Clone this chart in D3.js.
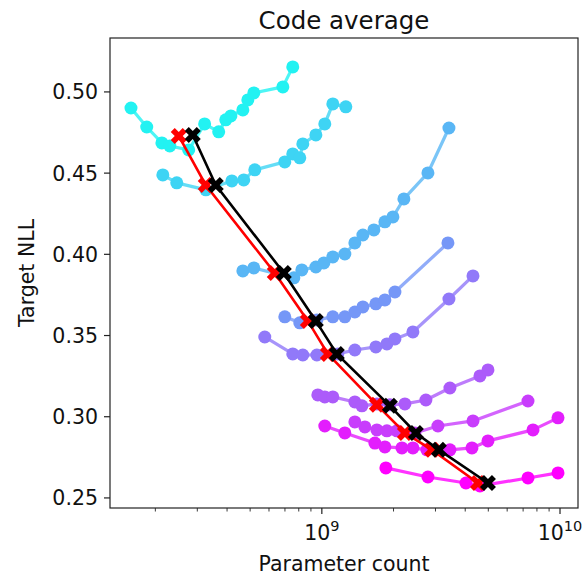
<!DOCTYPE html>
<html><head><meta charset="utf-8">
<script src="https://cdn.jsdelivr.net/npm/d3@7"></script>
<style>body{margin:0;background:#fff}svg{display:block;font-family:"DejaVu Sans",sans-serif}</style>
</head><body><svg id="c" width="586" height="576"></svg>
<script>
const title = "Code average";
const xLabel = "Parameter count";
const yLabel = "Target NLL";
const yTicks = [0.25, 0.30, 0.35, 0.40, 0.45, 0.50];
const xTicks = [1e9, 1e10];

const s1x = [1.58e8,1.84e8,2.13e8,2.30e8,2.76e8,3.22e8,3.69e8,3.95e8,4.15e8,4.66e8,4.89e8,5.18e8,6.86e8,7.55e8];
const s1y = [0.4901,0.4784,0.4686,0.4667,0.4643,0.4803,0.4754,0.4828,0.4852,0.4889,0.4951,0.4994,0.5031,0.5154];
const s2x = [2.15e8,2.46e8,3.26e8,4.19e8,4.70e8,5.23e8,6.99e8,7.55e8,8.08e8,8.32e8,9.44e8,1.029e9,1.112e9,1.261e9];
const s2y = [0.4489,0.4440,0.4397,0.4452,0.4458,0.4520,0.4569,0.4618,0.4594,0.4680,0.4735,0.4803,0.4926,0.4908];
const s3x = [4.66e8,5.18e8,7.63e8,8.24e8,9.44e8,1.020e9,1.112e9,1.249e9,1.376e9,1.487e9,1.654e9,1.840e9,1.988e9,2.211e9,2.789e9,3.417e9];
const s3y = [0.3898,0.3916,0.3855,0.3904,0.3922,0.3947,0.3984,0.4002,0.4070,0.4119,0.4150,0.4200,0.4230,0.4341,0.4501,0.4778];
const s4x = [6.99e8,8.08e8,9.53e8,1.112e9,1.249e9,1.376e9,1.487e9,1.686e9,1.840e9,2.027e9,3.384e9];
const s4y = [0.3615,0.3578,0.3596,0.3615,0.3615,0.3645,0.3676,0.3695,0.3719,0.3768,0.4070];
const s5x = [5.76e8,7.55e8,8.32e8,9.53e8,1.167e9,1.376e9,1.686e9,1.876e9,2.027e9,2.412e9,3.417e9,4.311e9];
const s5y = [0.3491,0.3387,0.3380,0.3380,0.3387,0.3411,0.3430,0.3448,0.3479,0.3522,0.3725,0.3867];
const s6x = [9.62e8,1.029e9,1.112e9,1.376e9,1.473e9,1.703e9,1.931e9,2.232e9,2.735e9,3.450e9,4.612e9,4.983e9];
const s6y = [0.3134,0.3122,0.3122,0.3091,0.3067,0.3079,0.3073,0.3079,0.3103,0.3177,0.3251,0.3288];
const s7x = [1.376e9,1.516e9,1.703e9,1.876e9,2.066e9,2.459e9,3.072e9,4.311e9,7.337e9];
const s7y = [0.2968,0.2937,0.2919,0.2913,0.2913,0.2900,0.2943,0.2974,0.3097];
const s8x = [1.029e9,1.249e9,1.670e9,1.840e9,2.169e9,2.412e9,2.762e9,3.450e9,4.269e9,4.983e9,7.701e9,9.809e9];
const s8y = [0.2943,0.2900,0.2838,0.2814,0.2808,0.2808,0.2796,0.2796,0.2808,0.2851,0.2919,0.2993];
const s9x = [1.857e9,2.789e9,4.027e9,4.612e9,7.337e9,9.809e9];
const s9y = [0.2685,0.2629,0.2592,0.2574,0.2623,0.2654];

const redX = [2.507e8,3.255e8,6.345e8,8.735e8,1.060e9,1.703e9,2.232e9,2.899e9,4.524e9];
const redY = [0.4729,0.4427,0.3885,0.3590,0.3387,0.3073,0.2900,0.2796,0.2592];
const blackX = [2.871e8,3.586e8,6.925e8,9.437e8,1.156e9,1.931e9,2.483e9,3.102e9,4.983e9];
const blackY = [0.4735,0.4427,0.3885,0.3590,0.3387,0.3067,0.2900,0.2796,0.2592];

const seriesX = [s1x,s2x,s3x,s4x,s5x,s6x,s7x,s8x,s9x];
const seriesY = [s1y,s2y,s3y,s4y,s5y,s6y,s7y,s8y,s9y];

const L = 110, R = 578, T = 38, B = 508;
const svg = d3.select("#c");
const x = d3.scaleLog().domain([1.29e8, 1.19e10]).range([L, R]);
const y = d3.scaleLinear().domain([0.2438, 0.5332]).range([B, T]);
const cmap = d3.interpolateRgb("#22f2f2", "#ff00ff");

const plot = svg.append("g");
const line = d3.line().x(d => x(d[0])).y(d => y(d[1]));

seriesX.forEach((xs, i) => {
  const col = cmap(i / (seriesX.length - 1));
  const pts = xs.map((v, j) => [v, seriesY[i][j]]);
  plot.append("path").datum(pts).attr("d", line).attr("fill", "none")
    .attr("stroke", col).attr("stroke-width", 3.2).attr("stroke-opacity", 0.8).attr("stroke-linejoin", "round");
  plot.selectAll(null).data(pts).enter().append("circle")
    .attr("cx", d => x(d[0])).attr("cy", d => y(d[1])).attr("r", 6.5)
    .attr("fill", col);
});

function optLine(xs, ys, col) {
  const pts = xs.map((v, j) => [v, ys[j]]);
  plot.append("path").datum(pts).attr("d", line).attr("fill", "none")
    .attr("stroke", col).attr("stroke-width", 2.6);
  const sym = d3.symbol().type(d3.symbolCross).size(160);
  plot.selectAll(null).data(pts).enter().append("path")
    .attr("d", sym).attr("fill", col)
    .attr("transform", d => `translate(${x(d[0])},${y(d[1])}) rotate(45)`);
}
optLine(redX, redY, "#ff0000");
optLine(blackX, blackY, "#000000");

// axes frame
svg.append("rect").attr("x", L).attr("y", T).attr("width", R - L).attr("height", B - T)
  .attr("fill", "none").attr("stroke", "#222").attr("stroke-width", 1.2);

// y axis
const ya = svg.append("g");
yTicks.forEach(t => {
  const py = y(t);
  ya.append("line").attr("x1", L - 6).attr("x2", L).attr("y1", py).attr("y2", py).attr("stroke", "#222").attr("stroke-width", 1.2);
  ya.append("text").attr("x", L - 12).attr("y", py).attr("dy", "0.36em").attr("text-anchor", "end")
    .attr("font-size", 20.5).attr("fill", "#111").text(t.toFixed(2));
});
// x axis
const xa = svg.append("g");
const minor = [];
for (let e = 8; e <= 10; e++) for (let k = 2; k <= 9; k++) {
  const v = k * Math.pow(10, e);
  if (v >= x.domain()[0] && v <= x.domain()[1]) minor.push(v);
}
minor.forEach(v => {
  xa.append("line").attr("x1", x(v)).attr("x2", x(v)).attr("y1", B).attr("y2", B + 3.5).attr("stroke", "#222").attr("stroke-width", 0.9);
});
xTicks.forEach(v => {
  const px = x(v);
  xa.append("line").attr("x1", px).attr("x2", px).attr("y1", B).attr("y2", B + 6).attr("stroke", "#222").attr("stroke-width", 1.2);
  const t = xa.append("text").attr("x", px).attr("y", B + 32).attr("text-anchor", "middle")
    .attr("font-size", 20.5).attr("fill", "#111");
  t.append("tspan").text("10");
  t.append("tspan").attr("dy", -9).attr("font-size", 14.5).text(Math.round(Math.log10(v)));
});

svg.append("text").attr("x", (L + R) / 2).attr("y", 29).attr("text-anchor", "middle")
  .attr("font-size", 24.5).attr("fill", "#111").text(title);
svg.append("text").attr("x", (L + R) / 2).attr("y", 571).attr("text-anchor", "middle")
  .attr("font-size", 20.5).attr("fill", "#111").text(xLabel);
svg.append("text").attr("transform", `translate(34,${(T + B) / 2}) rotate(-90)`).attr("text-anchor", "middle")
  .attr("font-size", 20.5).attr("fill", "#111").text(yLabel);
</script></body></html>
